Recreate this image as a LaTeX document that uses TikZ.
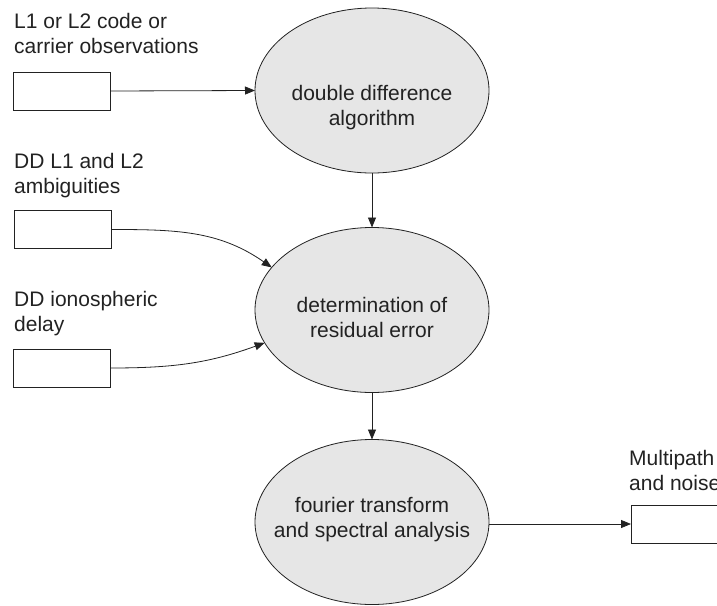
\documentclass[tikz,border=0pt]{standalone}
\usepackage{fontspec}
\setmainfont{Liberation Sans}
\usetikzlibrary{arrows.meta,shapes.geometric}
\definecolor{inkgray}{HTML}{222222}
\definecolor{bubble}{HTML}{E6E6E6}
\tikzset{
  stage/.style={ellipse, draw=inkgray, fill=bubble, line width=0.8pt,
    minimum width=234pt, minimum height=165pt, inner sep=0pt, outer sep=0pt},
  databox/.style={rectangle, draw=inkgray, fill=white, line width=0.8pt,
    minimum width=97pt, minimum height=38pt, inner sep=0pt, outer sep=0pt},
  caption/.style={align=left, anchor=base west, inner sep=0pt, text=inkgray,
    font=\fontsize{21}{25}\selectfont},
  stagetext/.style={align=center, inner sep=0pt, text=inkgray,
    font=\fontsize{21}{25}\selectfont},
  flow/.style={draw=inkgray, line width=0.8pt, -{Triangle[length=10pt,width=8pt]}}
}
\begin{document}
\begin{tikzpicture}[x=1pt, y=-1pt]
  \useasboundingbox (0,0) rectangle (717,605);

  % processing stages
  \node[stage] (e1) at (372,90.5) {};
  \node[stage] (e2) at (372,310) {};
  \node[stage] (e3) at (372,522) {};
  \node[stagetext] (t1) at (372,108) {double difference\\algorithm};
  \node[stagetext] (t2) at (372,317) {determination of\\residual error};
  \node[stagetext] (t3) at (372,520) {fourier transform\\and spectral analysis};

  % input and output boxes
  \node[databox] (b1) at (61.5,91) {};
  \node[databox] (b2) at (62.5,229.5) {};
  \node[databox] (b3) at (61.5,368) {};
  \node[databox] (b4) at (679.5,524) {};

  % box captions (anchored at the baseline of the last line)
  \node[caption] (c1) at (14,53) {L1 or L2 code or\\carrier observations};
  \node[caption] (c2) at (14,193) {DD L1 and L2\\ambiguities};
  \node[caption] (c3) at (14,331) {DD ionospheric\\delay};
  \node[caption] (c4) at (629,490) {Multipath\\and noise};

  % connectors
  \draw[flow] (b1.east) -- (e1.west);
  \draw[flow] (e1.south) -- (e2.north);
  \draw[flow] (e2.south) -- (e3.north);
  \draw[flow] (b2.east) to[out=0, in=145] (e2.157.6);
  \draw[flow] (b3.east) to[out=0, in=200] (e2.197.8);
  \draw[flow] (e3.east |- b4.west) -- (b4.west);
\end{tikzpicture}
\end{document}
